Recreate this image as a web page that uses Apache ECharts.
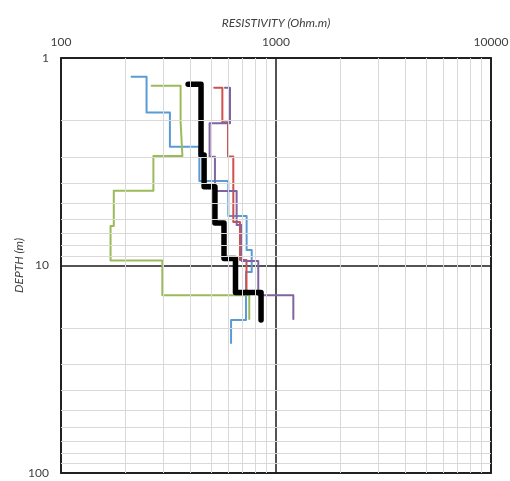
<!DOCTYPE html>
<html><head><meta charset="utf-8">
<script src="https://cdn.jsdelivr.net/npm/echarts@6/dist/echarts.min.js"></script>
<style>html,body{margin:0;padding:0;background:#fff}#c{width:510px;height:481px}</style>
</head><body><div id="c"></div>
<script>
// Resistivity (Ohm.m) per layer and layer-bottom depths (m)
const blueRes    = [213, 250, 321, 440, 600, 730, 771, 725, 618];
const blueDepth  = [1.23, 1.83, 2.68, 3.92, 5.77, 8.42, 10.75, 18.3, 23.6];
const greenRes   = [264, 360, 367, 269, 176, 170, 296, 751];
const greenDepth = [1.36, 2.03, 2.97, 4.36, 6.45, 9.46, 13.9, 18.1];
const redRes     = [516, 563, 598, 633, 680, 729];
const redDepth   = [1.39, 2.04, 2.98, 6.17, 9.41, 13.4];
const purpleRes  = [579, 611, 491, 520, 656, 693, 827, 1204];
const purpleDepth= [1.39, 2.06, 2.99, 4.38, 6.38, 9.51, 13.9, 18.1];
const blackRes   = [390, 448, 463, 520, 573, 648, 852];
const blackDepth = [1.34, 2.93, 4.17, 6.24, 9.25, 13.5, 18.3];

const xTickLabels = [100, 1000, 10000];
const yTickLabels = [1, 10, 100];
const xMinorGrid = [200,300,400,500,600,700,800,900,2000,3000,4000,5000,6000,7000,8000,9000];
const yMinorGrid = [2,3,4,5,6,7,8,9,20,30,40,50,60,70,80,90];

function steps(res, depth){
  const pts = [[res[0], depth[0]]];
  for (let i = 1; i < res.length; i++) {
    pts.push([res[i], depth[i-1]]);
    pts.push([res[i], depth[i]]);
  }
  return pts;
}

const chart = echarts.init(document.getElementById('c'), null, {renderer:'canvas'});
const font = 'Lato, "Open Sans", sans-serif';
function lineSeries(name, res, depth, color, width, z){
  return {
    name, type:'line', data: steps(res, depth), showSymbol:false, symbol:'none',
    lineStyle:{color, width, cap:'round', join:'round'}, z, silent:true, animation:false
  };
}
chart.setOption({
  animation:false,
  grid:{left:61, top:58, width:430, height:415, show:true, borderColor:'#3a3a3a', borderWidth:2,
        backgroundColor:'transparent', containLabel:false, outerBoundsMode:'none'},
  xAxis:{
    type:'log', logBase:10, min:xTickLabels[0], max:xTickLabels[xTickLabels.length-1], position:'top',
    name:'RESISTIVITY (Ohm.m)', nameLocation:'middle', nameGap:29, nameMoveOverlap:false,
    nameTextStyle:{fontFamily:font, fontSize:12, fontStyle:'italic', color:'#404040'},
    axisLine:{show:false}, axisTick:{show:false},
    axisLabel:{fontFamily:font, fontSize:12, color:'#404040', margin:10, formatter:v=>String(Math.round(v))},
    splitLine:{show:true, lineStyle:{color:'#1a1a1a', width:1.5}}
  },
  yAxis:{
    type:'log', logBase:10, min:yTickLabels[0], max:yTickLabels[yTickLabels.length-1], inverse:true,
    name:'DEPTH (m)', nameLocation:'middle', nameGap:36, nameRotate:90, nameMoveOverlap:false,
    nameTextStyle:{fontFamily:font, fontSize:12, fontStyle:'italic', color:'#404040'},
    axisLine:{show:false}, axisTick:{show:false},
    axisLabel:{fontFamily:font, fontSize:12, color:'#404040', margin:12, formatter:v=>String(Math.round(v))},
    splitLine:{show:true, lineStyle:{color:'#1a1a1a', width:1.5}}
  },
  series:[
    {type:'line', data:[], silent:true, z:1,
     markLine:{silent:true, symbol:'none', label:{show:false}, animation:false,
       lineStyle:{color:'#d9d9d9', width:1, type:'solid'},
       data: xMinorGrid.map(v=>({xAxis:v})).concat(yMinorGrid.map(v=>({yAxis:v})))}},
    lineSeries('blue', blueRes, blueDepth, '#5B9BD5', 2, 3),
    lineSeries('red', redRes, redDepth, '#D0504D', 2, 3),
    lineSeries('green', greenRes, greenDepth, '#9BBB59', 2, 3),
    lineSeries('purple', purpleRes, purpleDepth, '#8064A2', 2, 3),
    lineSeries('black', blackRes, blackDepth, '#000000', 5.5, 4)
  ]
});
</script></body></html>
